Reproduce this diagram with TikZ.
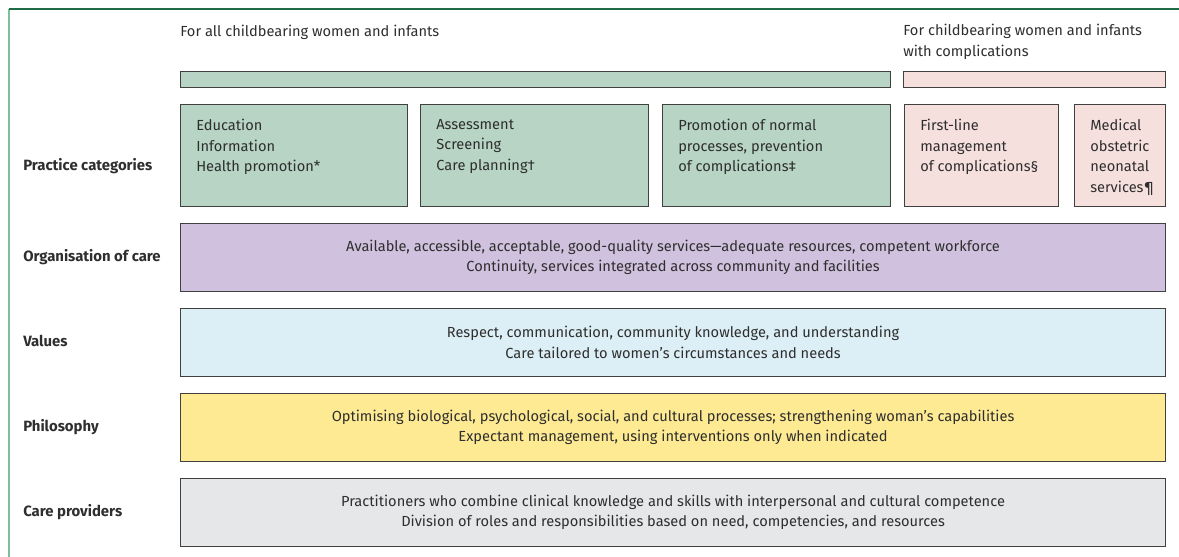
\documentclass[tikz,border=0pt]{standalone}
\usepackage{fontspec}
\setmainfont{Fira Sans}
\usepackage{tikz}
\usetikzlibrary{positioning}

\definecolor{framedark}{HTML}{1F6B46}
\definecolor{framelight}{HTML}{7DBF9B}
\definecolor{txtgray}{HTML}{2E2E2E}
\definecolor{greenfill}{HTML}{B7D4C5}
\definecolor{pinkfill}{HTML}{F6E0DD}
\definecolor{purplefill}{HTML}{D0C1DE}
\definecolor{bluefill}{HTML}{DDEFF6}
\definecolor{yellowfill}{HTML}{FDEA93}
\definecolor{grayfill}{HTML}{E6E7E8}

\begin{document}
\begin{tikzpicture}[
    x=0.025cm, y=-0.025cm,
    every node/.style={font=\fontsize{10.4}{14.6}\selectfont, text=txtgray, inner sep=0pt},
    catbox/.style={draw=black!75, line width=0.6pt, anchor=north west,
        minimum height=2.55cm, minimum width=#1},
    cattext/.style={anchor=north west, align=left},
    rowbox/.style={draw=black!75, line width=0.6pt, anchor=north west, align=center,
        minimum width=24.625cm, minimum height=1.7cm},
    bar/.style={draw=black!75, line width=0.6pt, anchor=north west, minimum height=0.4cm},
    rowlabel/.style={anchor=west, font=\fontsize{10.6}{14.6}\selectfont\bfseries}
]
    % frame
    \useasboundingbox (0,0) rectangle (1179,557);
    \draw[framelight, line width=1.5pt] (9,9) -- (9,557);
    \draw[framedark, line width=1.2pt] (9,9) -- (1179,9);

    % headings
    \node[anchor=west] (allhead) at (180,32) {For all childbearing women and infants};
    \node[anchor=north west, align=left] (comphead) at (903,24) {For childbearing women and infants\\with complications};

    % bars
    \node[bar, fill=greenfill, minimum width=17.75cm] (allbar) at (180,71) {};
    \node[bar, fill=pinkfill, minimum width=6.55cm] (compbar) at (903,71) {};

    % practice categories
    \node[catbox=5.675cm, fill=greenfill] (edu) at (180,104) {};
    \node[catbox=5.7cm, fill=greenfill] (assess) at (420,104) {};
    \node[catbox=5.7cm, fill=greenfill] (promo) at (662,104) {};
    \node[catbox=3.85cm, fill=pinkfill] (firstline) at (904,104) {};
    \node[catbox=2.275cm, fill=pinkfill] (medical) at (1074,104) {};

    \node[cattext, below right=0.375cm and 0.4cm of edu.north west] (edutext)
        {Education\\Information\\Health promotion*};
    \node[cattext, below right=0.375cm and 0.4cm of assess.north west] (assesstext)
        {Assessment\\Screening\\Care planning\textdagger};
    \node[cattext, below right=0.375cm and 0.4cm of promo.north west] (promotext)
        {Promotion of normal\\processes, prevention\\of complications\textdaggerdbl};
    \node[cattext, below right=0.375cm and 0.4cm of firstline.north west] (firstlinetext)
        {First-line\\management\\of complications\S};
    \node[cattext, below right=0.375cm and 0.4cm of medical.north west] (medicaltext)
        {Medical\\obstetric\\neonatal\\services\P};

    % rows
    \node[rowbox, fill=purplefill] (org) at (180,223)
        {Available, accessible, acceptable, good-quality services---adequate resources, competent workforce\\
         Continuity, services integrated across community and facilities};
    \node[rowbox, fill=bluefill] (values) at (180,308)
        {Respect, communication, community knowledge, and understanding\\
         Care tailored to women’s circumstances and needs};
    \node[rowbox, fill=yellowfill] (philo) at (180,393)
        {Optimising biological, psychological, social, and cultural processes; strengthening woman’s capabilities\\
         Expectant management, using interventions only when indicated};
    \node[rowbox, fill=grayfill] (providers) at (180,478)
        {Practitioners who combine clinical knowledge and skills with interpersonal and cultural competence\\
         Division of roles and responsibilities based on need, competencies, and resources};

    % row labels
    \node[rowlabel] (lpractice) at (23,166) {Practice categories};
    \node[rowlabel] (lorg) at (23,257) {Organisation of care};
    \node[rowlabel] (lvalues) at (23,341) {Values};
    \node[rowlabel] (lphilo) at (23,427) {Philosophy};
    \node[rowlabel] (lproviders) at (23,512) {Care providers};
\end{tikzpicture}
\end{document}
